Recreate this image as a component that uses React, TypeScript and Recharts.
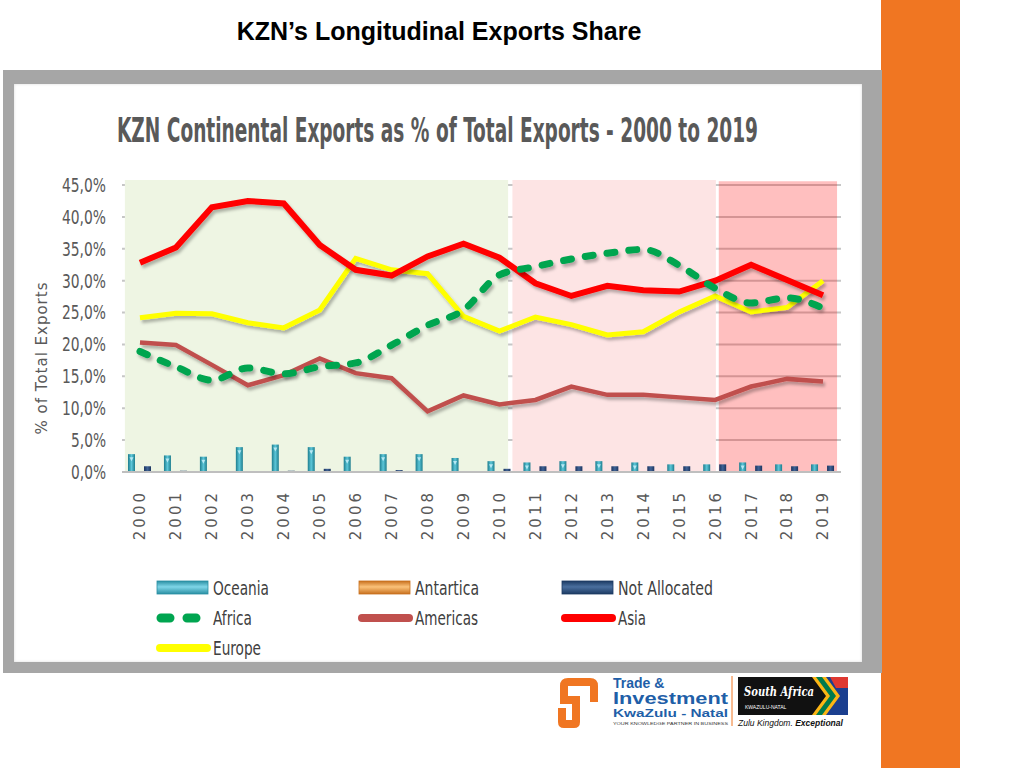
import {
  ComposedChart,
  Line,
  Bar,
  XAxis,
  YAxis,
  CartesianGrid,
  ReferenceArea,
} from "recharts";

// values (% of total KZN exports)
const years = ["2000", "2001", "2002", "2003", "2004", "2005", "2006", "2007", "2008", "2009", "2010", "2011", "2012", "2013", "2014", "2015", "2016", "2017", "2018", "2019"];
const asia = [32.8, 35.2, 41.5, 42.5, 42.1, 35.6, 31.7, 30.8, 33.8, 35.8, 33.6, 29.6, 27.6, 29.2, 28.5, 28.3, 30.0, 32.5, 30.1, 27.7];
const europe = [24.2, 24.9, 24.8, 23.4, 22.6, 25.4, 33.5, 31.7, 31.1, 24.4, 22.1, 24.3, 23.1, 21.5, 22.0, 25.1, 27.6, 25.1, 25.8, 30.0];
const americas = [20.3, 19.9, 16.8, 13.6, 15.2, 17.8, 15.5, 14.7, 9.5, 12.0, 10.6, 11.3, 13.4, 12.1, 12.1, 11.7, 11.3, 13.4, 14.6, 14.2];
const africa = [18.9, 16.5, 14.4, 16.3, 15.4, 16.5, 17.1, 19.9, 23.0, 25.4, 30.9, 32.2, 33.4, 34.3, 34.9, 32.4, 28.8, 26.5, 27.3, 25.7];
const oceania = [2.8, 2.6, 2.4, 3.9, 4.3, 3.9, 2.4, 2.8, 2.8, 2.2, 1.7, 1.5, 1.7, 1.7, 1.5, 1.2, 1.2, 1.5, 1.2, 1.2];
const antartica = [0, 0, 0, 0, 0, 0, 0, 0, 0, 0, 0, 0, 0, 0, 0, 0, 0, 0, 0, 0];
const notAllocated = [0.9, 0.2, 0.05, 0.05, 0.2, 0.5, 0.05, 0.3, 0.05, 0.05, 0.5, 0.9, 0.9, 0.9, 0.9, 0.9, 1.2, 1.0, 0.9, 1.0];
const yTicks = [0, 5, 10, 15, 20, 25, 30, 35, 40, 45];

const data = years.map((year, i) => ({
  year,
  idx: i,
  Oceania: oceania[i],
  Antartica: antartica[i],
  "Not Allocated": notAllocated[i],
  Africa: africa[i],
  Americas: americas[i],
  Asia: asia[i],
  Europe: europe[i],
}));

const narrow = "'Liberation Sans Narrow', 'DejaVu Sans Condensed', 'Roboto Condensed', sans-serif";
const grey = "#595959";

const barShape = (grad: string, mark: boolean) => (props: any) => {
  const { x, y, width, height } = props;
  if (!height || height < 0.6) return <g />;
  return (
    <g>
      <rect x={x} y={y} width={width} height={height} fill={`url(#${grad})`} />
      {mark && height > 8 && (
        <path
          d={`M${x + 1.5},${y + 3} L${x + width - 1.5},${y + 3} L${x + width / 2},${y + 7} Z`}
          fill="#c8f0fa"
          opacity={0.85}
        />
      )}
    </g>
  );
};

const YearTick = (props: any) => {
  const { x, y, payload } = props;
  return (
    <text
      transform={`translate(${x},${y + 10}) rotate(-90)`}
      textAnchor="end"
      dy="0.36em"
      fontSize={15}
      letterSpacing={3}
      fill={grey}
      fontFamily="'DejaVu Sans', Verdana, sans-serif"
    >
      {payload.value}
    </text>
  );
};

const PctTick = (props: any) => {
  const { x, y, payload } = props;
  const label = payload.value.toFixed(1).replace(".", ",") + "%";
  return (
    <text
      x={x}
      y={y}
      dy="0.36em"
      textAnchor="end"
      fontSize={19}
      fill={grey}
      fontFamily={narrow}
      textLength={label.length === 5 ? 44 : 35}
      lengthAdjust="spacingAndGlyphs"
    >
      {label}
    </text>
  );
};

const legendItems = [
  { name: "Oceania", kind: "bar", c1: "#2a8fa3", c2: "#7fd6e8", col: 0, row: 0, w: 56 },
  { name: "Antartica", kind: "bar", c1: "#c8701e", c2: "#fbc27a", col: 1, row: 0, w: 64 },
  { name: "Not Allocated", kind: "bar", c1: "#1c3a63", c2: "#4a6f9e", col: 2, row: 0, w: 95 },
  { name: "Africa", kind: "dash", c1: "#00a550", col: 0, row: 1, w: 39 },
  { name: "Americas", kind: "line", c1: "#c0504d", col: 1, row: 1, w: 63 },
  { name: "Asia", kind: "line", c1: "#ff0000", col: 2, row: 1, w: 28 },
  { name: "Europe", kind: "line", c1: "#ffff00", col: 0, row: 2, w: 48 },
];
const legendCols = [157, 359, 562];

export default function App() {
  return (
    <div style={{ position: "absolute", left: 0, top: 0, width: 1024, height: 768, background: "#fff", overflow: "hidden" }}>
      {/* orange stripe */}
      <div style={{ position: "absolute", left: 881, top: 0, width: 79, height: 768, background: "#f07622" }} />

      <div
        style={{
          position: "absolute",
          left: 0,
          top: 17,
          width: 878,
          textAlign: "center",
          fontFamily: "'Liberation Sans', Arial, sans-serif",
          fontWeight: 700,
          fontSize: 25,
          color: "#000",
        }}
      >
        KZN’s Longitudinal Exports Share
      </div>

      {/* grey frame */}
      <div style={{ position: "absolute", left: 3, top: 70, width: 879, height: 603, background: "#a6a6a6" }} />
      <div style={{ position: "absolute", left: 14, top: 84, width: 848, height: 578, background: "#fff", boxShadow: "inset 0 0 3px rgba(0,0,0,0.15)" }} />

      <div style={{ position: "absolute", left: 14, top: 84 }}>
        <ComposedChart
          width={848}
          height={578}
          data={data}
          margin={{ top: 101, right: 21, left: 48, bottom: 120 }}
          barSize={7}
          barGap={1}
        >
          <defs>
            <linearGradient id="gOce" x1="0" y1="0" x2="1" y2="0">
              <stop offset="0%" stopColor="#1d7d8e" />
              <stop offset="50%" stopColor="#5cc6d8" />
              <stop offset="100%" stopColor="#1d7d8e" />
            </linearGradient>
            <linearGradient id="gAnt" x1="0" y1="0" x2="1" y2="0">
              <stop offset="0%" stopColor="#c8701e" />
              <stop offset="50%" stopColor="#fbc27a" />
              <stop offset="100%" stopColor="#c8701e" />
            </linearGradient>
            <linearGradient id="gNA" x1="0" y1="0" x2="1" y2="0">
              <stop offset="0%" stopColor="#1c3560" />
              <stop offset="50%" stopColor="#3f6396" />
              <stop offset="100%" stopColor="#1c3560" />
            </linearGradient>
            <filter id="shadow" x="-10%" y="-10%" width="120%" height="130%">
              <feDropShadow dx="2" dy="3" stdDeviation="1.5" floodColor="#000" floodOpacity="0.28" />
            </filter>
          </defs>

          <XAxis xAxisId="band" type="number" dataKey="idx" domain={[-0.5, 19.5]} hide />
          <ReferenceArea xAxisId="band" x1={-0.42} x2={10.24} y1={0} y2={45.8} fill="#eef5e3" fillOpacity={1} ifOverflow="visible" />
          <ReferenceArea xAxisId="band" x1={10.36} x2={16.02} y1={0} y2={45.8} fill="#fde4e4" fillOpacity={1} ifOverflow="visible" />

          <CartesianGrid vertical={false} stroke="#c6c6c6" strokeWidth={2} />
          <XAxis
            dataKey="year"
            interval={0}
            height={70}
            tick={<YearTick />}
            tickLine={false}
            axisLine={{ stroke: "#bfbfbf", strokeWidth: 2 }}
          />
          <YAxis
            width={60}
            domain={[0, 45]}
            ticks={yTicks}
            tick={<PctTick />}
            tickLine={false}
            tickSize={6}
            tickMargin={10}
            axisLine={false}
          />

          <Bar dataKey="Oceania" shape={barShape("gOce", true)} isAnimationActive={false} />
          <Bar dataKey="Antartica" shape={barShape("gAnt", false)} isAnimationActive={false} />
          <Bar dataKey="Not Allocated" shape={barShape("gNA", false)} isAnimationActive={false} />

          <Line dataKey="Americas" type="linear" stroke="#c0504d" strokeWidth={4.5} dot={false} filter="url(#shadow)" isAnimationActive={false} />
          <Line dataKey="Europe" type="linear" stroke="#ffff00" strokeWidth={5} dot={false} filter="url(#shadow)" isAnimationActive={false} />
          <Line dataKey="Asia" type="linear" stroke="#ff0000" strokeWidth={6} dot={false} filter="url(#shadow)" isAnimationActive={false} />
          <Line
            dataKey="Africa"
            type="monotone"
            stroke="#00a550"
            strokeWidth={7}
            strokeDasharray="8 14"
            strokeLinecap="round"
            dot={false}
            filter="url(#shadow)"
            isAnimationActive={false}
          />

          <ReferenceArea xAxisId="band" x1={16.1} x2={19.39} y1={0} y2={45.6} fill="#ff0000" fillOpacity={0.25} ifOverflow="visible" />
        </ComposedChart>
      </div>

      {/* chart title, axis title and legend */}
      <svg style={{ position: "absolute", left: 0, top: 0 }} width={880} height={768}>
        <text
          x={117}
          y={142}
          textLength={641}
          lengthAdjust="spacingAndGlyphs"
          fontSize={33}
          fontWeight={700}
          fill={grey}
          fontFamily={narrow}
        >
          KZN Continental Exports as % of Total Exports - 2000 to 2019
        </text>
        <text
          transform="translate(42,358) rotate(-90)"
          textAnchor="middle"
          dy="0.36em"
          fontSize={15}
          letterSpacing={1}
          fill={grey}
          fontFamily="'DejaVu Sans', Verdana, sans-serif"
        >
          % of Total Exports
        </text>

        {legendItems.map((it) => {
          const x = legendCols[it.col];
          const cy = 588 + it.row * 30;
          return (
            <g key={it.name}>
              {it.kind === "bar" && (
                <g>
                  <defs>
                    <linearGradient id={`lg-${it.col}`} x1="0" y1="0" x2="0" y2="1">
                      <stop offset="0%" stopColor={it.c1} />
                      <stop offset="45%" stopColor={it.c2} />
                      <stop offset="100%" stopColor={it.c1} />
                    </linearGradient>
                  </defs>
                  <rect x={x} y={cy - 7} width={51} height={13} fill={`url(#lg-${it.col})`} stroke={it.c1} strokeWidth={0.8} />
                </g>
              )}
              {it.kind === "dash" && (
                <path d={`M${x + 4},${cy} L${x + 13},${cy} M${x + 30},${cy} L${x + 39},${cy}`} stroke={it.c1} strokeWidth={9} strokeLinecap="round" />
              )}
              {it.kind === "line" && (
                <line x1={x + 3} y1={cy} x2={x + 50} y2={cy} stroke={it.c1} strokeWidth={8} strokeLinecap="round" />
              )}
              <text
                x={x + 56}
                y={cy}
                dy="0.36em"
                fontSize={20}
                fill="#404040"
                fontFamily={narrow}
                textLength={it.w}
                lengthAdjust="spacingAndGlyphs"
              >
                {it.name}
              </text>
            </g>
          );
        })}
      </svg>

      {/* logos */}
      <svg style={{ position: "absolute", left: 550, top: 672 }} width={310} height={62}>
        <path d="M10,14 Q10,6 18,6 L40,6 Q48,6 48,14 L48,30 L40,30 L40,14 L18,14 L18,24 L30,24 L30,50 Q30,56 24,56 L14,56 Q8,56 8,50 L8,36 L16,36 L16,48 L22,48 L22,32 L10,32 Z" fill="#f07622" />
        <text x={63} y={16} fontSize={14} fontWeight={700} fill="#1f5fa8" fontFamily="'Liberation Sans', Arial, sans-serif">Trade &amp;</text>
        <text x={63} y={32} fontSize={16} fontWeight={700} fill="#1f5fa8" fontFamily="'Liberation Sans', Arial, sans-serif" textLength={115} lengthAdjust="spacingAndGlyphs">Investment</text>
        <text x={63} y={45} fontSize={11} fontWeight={700} fill="#1f5fa8" fontFamily="'Liberation Sans', Arial, sans-serif" textLength={115} lengthAdjust="spacingAndGlyphs">KwaZulu - Natal</text>
        <text x={63} y={53} fontSize={4.2} fill="#333" fontFamily="'Liberation Sans', Arial, sans-serif" textLength={115} lengthAdjust="spacingAndGlyphs">YOUR KNOWLEDGE PARTNER IN BUSINESS</text>
        <line x1={182} y1={4} x2={182} y2={54} stroke="#f07622" strokeWidth={1} />
        <rect x={188} y={5} width={110} height={38} fill="#111" />
        <path d="M268,5 L298,5 L298,43 L268,43 L282,24 Z" fill="#1b3f8f" />
        <path d="M262,5 L276,5 L290,24 L276,43 L262,43 L276,24 Z" fill="#fcb514" />
        <path d="M266,5 L272,5 L286,24 L272,43 L266,43 L280,24 Z" fill="#007a4d" />
        <path d="M280,5 L298,5 L298,16 L286,16 Z" fill="#de3831" />
        <text x={194} y={24} fontSize={13} fontStyle="italic" fontWeight={700} fill="#fff" fontFamily="'DejaVu Serif', serif" textLength={70} lengthAdjust="spacingAndGlyphs">South Africa</text>
        <text x={195} y={37} fontSize={5} fill="#fff" fontFamily="'Liberation Sans', Arial, sans-serif">KWAZULU-NATAL</text>
        <text x={188} y={54} fontSize={8.5} fontStyle="italic" fill="#111" fontFamily="'Liberation Sans', Arial, sans-serif">
          Zulu Kingdom. <tspan fontWeight={700}>Exceptional</tspan>
        </text>
      </svg>
    </div>
  );
}
